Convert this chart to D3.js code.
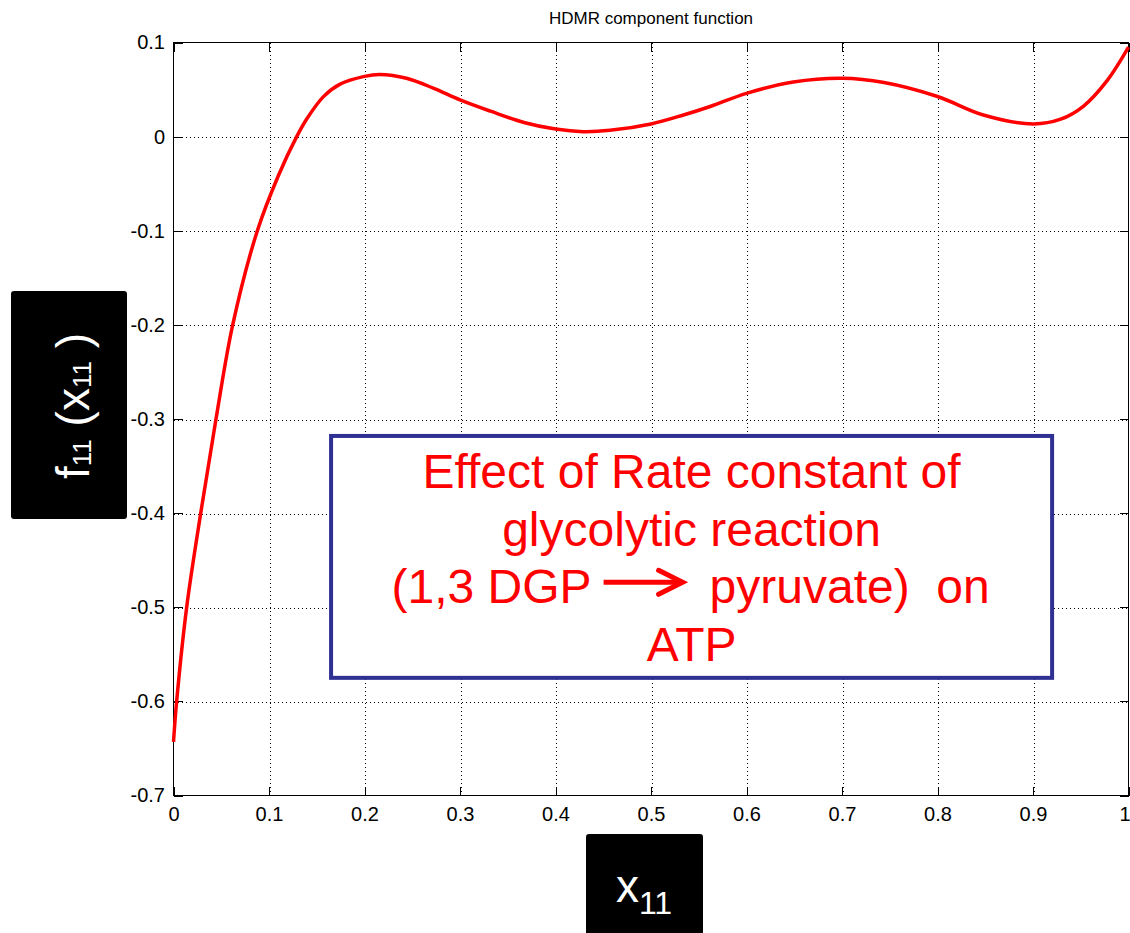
<!DOCTYPE html>
<html>
<head>
  <meta charset="utf-8">
  <title>HDMR component function</title>
  <script src="https://cdnjs.cloudflare.com/ajax/libs/d3/7.8.5/d3.min.js"></script>
  <style>
    body { margin: 0; background: #fff; }
    svg { display: block; font-family: "Liberation Sans", Arial, sans-serif; }
    .grid line { stroke: #000; stroke-width: 1; stroke-dasharray: 1,3; shape-rendering: crispEdges; }
    .axis path { display: none; }
    .axis line { stroke: #000; shape-rendering: crispEdges; }
    .axis text { font-size: 20px; fill: #000; }
    .curve { fill: none; stroke: #ff0000; stroke-width: 3.5px; stroke-linejoin: round; }
  </style>
</head>
<body>
<svg width="1130" height="933"></svg>
<script>
// tick values
var xTicks = [0, 0.1, 0.2, 0.3, 0.4, 0.5, 0.6, 0.7, 0.8, 0.9, 1];
var yTicks = [0.1, 0, -0.1, -0.2, -0.3, -0.4, -0.5, -0.6, -0.7];

// component function f11(x11)
var xs = [0, 0.0033, 0.0138, 0.0285, 0.0445, 0.062, 0.0878, 0.110, 0.129, 0.140, 0.157, 0.174,
          0.200, 0.216, 0.244, 0.272, 0.300, 0.332, 0.367, 0.400, 0.429, 0.457, 0.500, 0.534,
          0.562, 0.600, 0.649, 0.700, 0.744, 0.800, 0.848, 0.900, 0.929, 0.953, 0.978, 1.000];
var fs = [-0.643, -0.600, -0.500, -0.400, -0.300, -0.200, -0.100, -0.041, 0.000, 0.0195, 0.0425, 0.0555,
          0.064, 0.066, 0.062, 0.0515, 0.039, 0.027, 0.015, 0.008, 0.0053, 0.0067, 0.0135, 0.023,
          0.032, 0.046, 0.058, 0.062, 0.0575, 0.0426, 0.023, 0.0135, 0.0185, 0.0325, 0.060, 0.095];

var titleText = "HDMR component function";
var noteLines = ["Effect of Rate constant of", "glycolytic reaction", null, "ATP"];
var noteLeft = "(1,3 DGP", noteRight = "pyruvate)\u00a0\u00a0on";

var svg = d3.select("svg"),
    margin = {top: 42.5, right: 1.5, bottom: 137.5, left: 173.5},
    width = +svg.attr("width") - margin.left - margin.right,
    height = +svg.attr("height") - margin.top - margin.bottom,
    g = svg.append("g").attr("transform", "translate(" + margin.left + "," + margin.top + ")");

var x = d3.scaleLinear().domain([0, 1]).range([0, width]);
var y = d3.scaleLinear().domain([-0.7, 0.1]).range([height, 0]);

var fmt = function(d) { return String(d); };   // plain hyphen minus, like the original

// dotted grid
g.append("g").attr("class", "grid")
  .selectAll("line").data(xTicks.slice(1, -1)).enter().append("line")
    .attr("x1", d => Math.round(x(d)) + 0.5).attr("x2", d => Math.round(x(d)) + 0.5)
    .attr("y1", 0).attr("y2", height);
g.append("g").attr("class", "grid")
  .selectAll("line").data(yTicks.slice(1, -1)).enter().append("line")
    .attr("y1", d => Math.round(y(d)) + 0.5).attr("y2", d => Math.round(y(d)) + 0.5)
    .attr("x1", 0).attr("x2", width);

// axes with inward ticks on every side
var xAxis = g.append("g").attr("class", "axis")
    .attr("transform", "translate(0," + height + ")")
    .call(d3.axisBottom(x).tickValues(xTicks).tickSize(-9).tickPadding(11).tickFormat(fmt));
xAxis.selectAll(".tick:last-of-type text").attr("dx", -4);
g.append("g").attr("class", "axis")
    .call(d3.axisLeft(y).tickValues(yTicks).tickSize(-9).tickPadding(8.5).tickFormat(fmt));
g.append("g").attr("class", "axis")
    .call(d3.axisTop(x).tickValues(xTicks).tickSize(-9).tickFormat(""));
g.append("g").attr("class", "axis")
    .attr("transform", "translate(" + width + ",0)")
    .call(d3.axisRight(y).tickValues(yTicks).tickSize(-9).tickFormat(""));

g.append("rect")
    .attr("width", width).attr("height", height)
    .attr("fill", "none").attr("stroke", "#000").attr("stroke-width", 1);

// the curve
var line = d3.line()
    .x(function(d, i) { return x(xs[i]); })
    .y(function(d) { return y(d); })
    .curve(d3.curveCatmullRom.alpha(0.5));

g.append("path").datum(fs).attr("class", "curve").attr("d", line);

// title
svg.append("text")
    .attr("x", margin.left + width / 2).attr("y", 24)
    .attr("text-anchor", "middle")
    .style("font-family", "'Liberation Sans Narrow', 'Liberation Sans', Arial, sans-serif")
    .style("font-size", "17px")
    .text(titleText);

// y label box
svg.append("rect").attr("x", 11).attr("y", 291).attr("width", 116).attr("height", 228)
    .attr("rx", 3).attr("fill", "#000");
var yl = svg.append("text")
    .attr("transform", "translate(89,406) rotate(-90)")
    .attr("text-anchor", "middle").attr("fill", "#fff")
    .style("font-size", "46px");
yl.append("tspan").text("f");
yl.append("tspan").attr("font-size", "26px").attr("dy", 2).text("11");
yl.append("tspan").attr("dy", -2).text("\u00a0(x");
yl.append("tspan").attr("font-size", "26px").attr("dy", 2).text("11");
yl.append("tspan").attr("dy", -2).text("\u00a0)");

// x label box
svg.append("rect").attr("x", 586).attr("y", 834).attr("width", 117).attr("height", 110)
    .attr("rx", 3).attr("fill", "#000");
var xl = svg.append("text")
    .attr("x", 644).attr("y", 902)
    .attr("text-anchor", "middle").attr("fill", "#fff")
    .style("font-size", "46px");
xl.append("tspan").text("x");
xl.append("tspan").attr("font-size", "32px").attr("dy", 12).text("11");

// annotation box, placed in data coordinates
var bx0 = x(0.165), bx1 = x(0.92), by0 = y(-0.318), by1 = y(-0.575);
g.append("rect")
    .attr("x", bx0).attr("y", by0).attr("width", bx1 - bx0).attr("height", by1 - by0)
    .attr("fill", "#fff").attr("stroke", "#2e3192").attr("stroke-width", 4);

var cx = (bx0 + bx1) / 2, lineH = 57.7, base0 = by0 + 52;
var note = g.append("g").attr("fill", "#ff0000").style("font-size", "48px");
noteLines.forEach(function(t, i) {
  if (t === null) return;
  note.append("text").attr("x", cx).attr("y", base0 + i * lineH)
      .attr("text-anchor", "middle").text(t);
});
var b3 = base0 + 2 * lineH;
note.append("text").attr("x", cx - 100).attr("y", b3).attr("text-anchor", "end").text(noteLeft);
note.append("text").attr("x", cx + 18).attr("y", b3).attr("text-anchor", "start").text(noteRight);

// arrow between the two halves of line 3
var ay = b3 - 21;
note.append("line")
    .attr("x1", cx - 88).attr("x2", cx - 10).attr("y1", ay).attr("y2", ay)
    .attr("stroke", "#ff0000").attr("stroke-width", 5);
note.append("polyline")
    .attr("points", [[cx - 33, ay - 12], [cx - 9, ay], [cx - 33, ay + 12]].join(" "))
    .attr("fill", "none").attr("stroke", "#ff0000").attr("stroke-width", 5)
    .attr("stroke-linejoin", "miter").attr("stroke-linecap", "round");
</script>
</body>
</html>
